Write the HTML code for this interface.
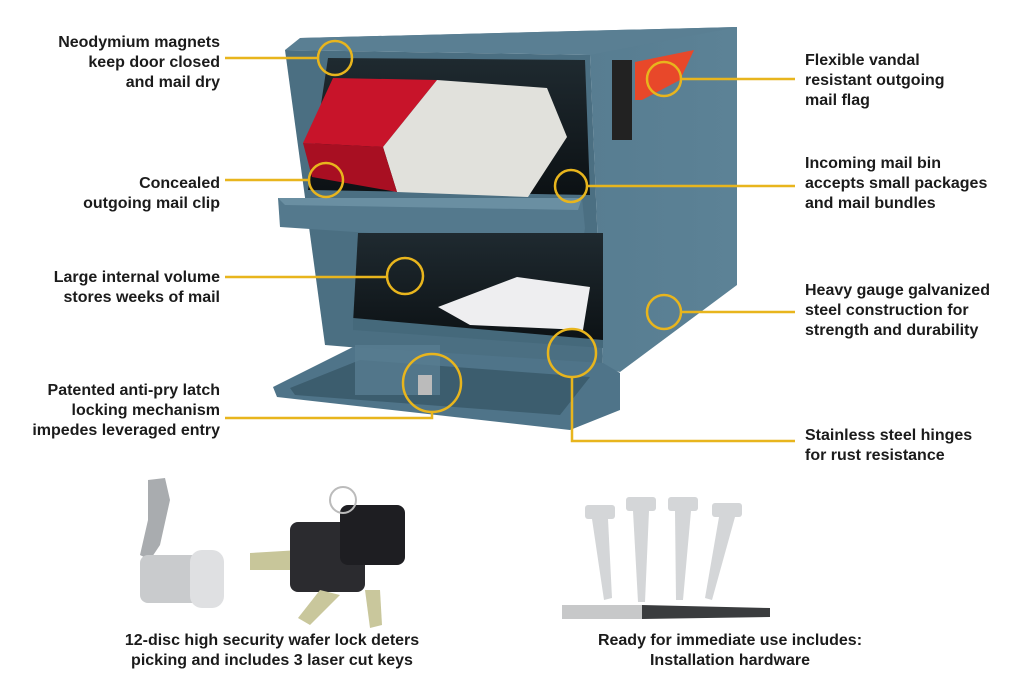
<!DOCTYPE html>
<html><head><meta charset="utf-8"><style>
html,body{margin:0;padding:0;background:#fff}
svg{display:block}
text{font-family:"Liberation Sans",sans-serif;font-weight:bold;font-size:16px;fill:#1b1b1b}
</style></head><body>
<svg width="1024" height="688" viewBox="0 0 1024 688">
<defs>
<linearGradient id="side" x1="0" y1="0" x2="1" y2="0"><stop offset="0" stop-color="#4e7387"/><stop offset="1" stop-color="#5c8296"/></linearGradient>
<linearGradient id="dark" x1="0" y1="0" x2="0" y2="1"><stop offset="0" stop-color="#1f2a30"/><stop offset="1" stop-color="#0c1114"/></linearGradient>
</defs>
<!-- mailbox body -->
<polygon points="300,38 737,27 737,285 620,372 603,368 590,55" fill="url(#side)"/>
<polygon points="285,50 300,38 737,27 590,55" fill="#5a7f93"/>
<polygon points="285,50 590,55 603,368 325,345" fill="#4b6f82"/>
<!-- upper opening -->
<polygon points="328,58 585,60 590,195 308,190" fill="url(#dark)"/>
<polygon points="303,143 333,78 437,80 383,147" fill="#c8142a"/>
<polygon points="383,147 437,80 547,88 567,137 528,197 397,192" fill="#e1e1dc"/>
<polygon points="303,143 383,147 397,192 312,177" fill="#a80f22"/>
<!-- upper tray -->
<polygon points="278,198 582,198 585,228 582,247 280,227" fill="#54798d"/>
<polygon points="278,198 582,198 578,210 285,205" fill="#6a8fa2"/>
<!-- lower opening -->
<polygon points="358,233 603,233 603,345 353,323" fill="url(#dark)"/>
<polygon points="438,307 517,277 590,287 583,330 470,325" fill="#eeeef0"/>
<polygon points="353,318 603,340 603,348 353,330" fill="#45697b"/>
<!-- lower door -->
<polygon points="273,387 353,347 603,363 620,373 620,410 570,430 277,397" fill="#4f7489"/>
<polygon points="290,388 360,360 590,377 560,415 295,395" fill="#3c5d6e"/>
<polygon points="355,345 440,345 440,395 355,395" fill="#587d91" opacity=".8"/>
<rect x="418" y="375" width="14" height="20" fill="#bbb"/>
<!-- flag -->
<rect x="612" y="60" width="20" height="80" fill="#222"/>
<polygon points="635,62 694,50 680,80 642,100 635,100" fill="#e8482a"/>
<!-- callout lines -->
<g stroke="#e8b51d" stroke-width="2.5" fill="none">
<circle cx="335" cy="58" r="17"/><line x1="225" y1="58" x2="318" y2="58"/>
<circle cx="326" cy="180" r="17"/><line x1="225" y1="180" x2="309" y2="180"/>
<circle cx="405" cy="276" r="18"/><line x1="225" y1="277" x2="387" y2="277"/>
<circle cx="432" cy="383" r="29"/><polyline points="225,418 432,418 432,412"/>
<circle cx="664" cy="79" r="17"/><line x1="681" y1="79" x2="795" y2="79"/>
<circle cx="571" cy="186" r="16"/><line x1="587" y1="186" x2="795" y2="186"/>
<circle cx="664" cy="312" r="17"/><line x1="681" y1="312" x2="795" y2="312"/>
<circle cx="572" cy="353" r="24"/><polyline points="572,377 572,441 795,441"/>
</g>
<!-- lock -->
<path d="M148,480 L165,478 L170,500 L160,545 L150,560 L140,555 L148,520 Z" fill="#a9acaf"/>
<rect x="140" y="555" width="70" height="48" rx="8" fill="#c9cbcd"/>
<rect x="190" y="550" width="34" height="58" rx="12" fill="#dfe0e2"/>
<!-- keys -->
<polygon points="250,553 300,550 300,570 250,570" fill="#c8c69a"/>
<rect x="290" y="522" width="75" height="70" rx="8" fill="#2b2b2f"/>
<rect x="340" y="505" width="65" height="60" rx="8" fill="#1e1e22"/>
<polygon points="320,590 340,595 310,625 298,618" fill="#c9c79c"/>
<polygon points="365,590 380,590 382,625 370,628" fill="#c9c79c"/>
<circle cx="343" cy="500" r="13" fill="none" stroke="#bbb" stroke-width="2"/>
<!-- screws -->
<g fill="#d4d6d8">
<rect x="585" y="505" width="30" height="14" rx="3"/><polygon points="592,519 608,519 612,598 604,600"/>
<rect x="626" y="497" width="30" height="14" rx="3"/><polygon points="633,511 649,511 645,602 638,602"/>
<rect x="668" y="497" width="30" height="14" rx="3"/><polygon points="675,511 691,511 683,600 676,600"/>
<rect x="712" y="503" width="30" height="14" rx="3"/><polygon points="719,517 735,517 712,600 705,598"/>
</g>
<rect x="562" y="605" width="80" height="14" fill="#c7c8c9"/>
<polygon points="642,605 770,608 770,617 642,619" fill="#3a3c3e"/>
<!-- labels -->
<g text-anchor="end">
<text x="220" y="47">Neodymium magnets</text><text x="220" y="67">keep door closed</text><text x="220" y="87">and mail dry</text>
<text x="220" y="188">Concealed</text><text x="220" y="208">outgoing mail clip</text>
<text x="220" y="282">Large internal volume</text><text x="220" y="302">stores weeks of mail</text>
<text x="220" y="395">Patented anti-pry latch</text><text x="220" y="415">locking mechanism</text><text x="220" y="435">impedes leveraged entry</text>
</g>
<g>
<text x="805" y="65">Flexible vandal</text><text x="805" y="85">resistant outgoing</text><text x="805" y="105">mail flag</text>
<text x="805" y="168">Incoming mail bin</text><text x="805" y="188">accepts small packages</text><text x="805" y="208">and mail bundles</text>
<text x="805" y="295">Heavy gauge galvanized</text><text x="805" y="315">steel construction for</text><text x="805" y="335">strength and durability</text>
<text x="805" y="440">Stainless steel hinges</text><text x="805" y="460">for rust resistance</text>
</g>
<g text-anchor="middle">
<text x="272" y="645">12-disc high security wafer lock deters</text><text x="272" y="665">picking and includes 3 laser cut keys</text>
<text x="730" y="645">Ready for immediate use includes:</text><text x="730" y="665">Installation hardware</text>
</g>
</svg>
</body></html>
